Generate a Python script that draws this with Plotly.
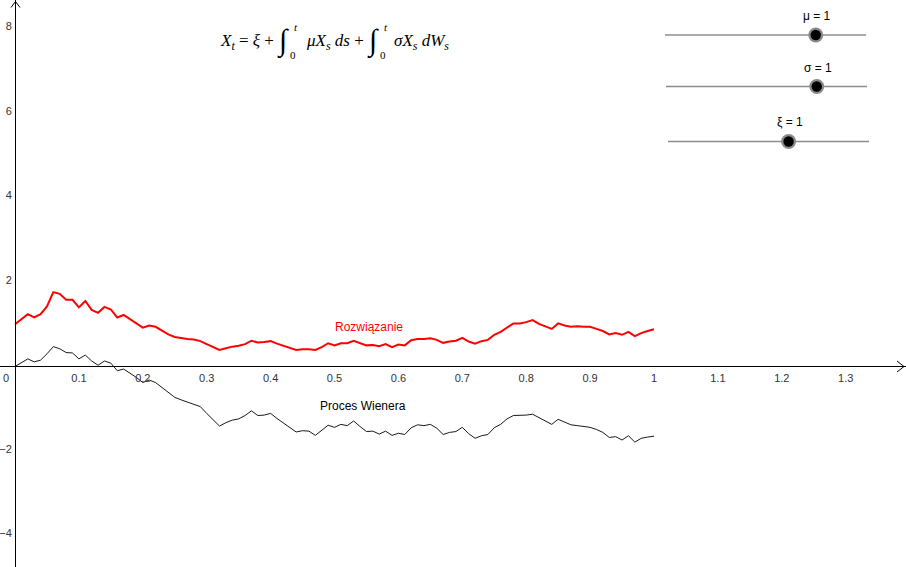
import plotly.graph_objects as go

# ---------------- data ----------------
t_steps = [round(i * 0.01, 2) for i in range(101)]

wiener = [0.00, 0.09, 0.18, 0.11, 0.15, 0.30, 0.47, 0.42, 0.33, 0.32,
          0.18, 0.27, 0.13, 0.03, 0.13, 0.08, -0.10, -0.06, -0.15, -0.26,
          -0.38, -0.32, -0.38, -0.50, -0.62, -0.73, -0.79, -0.84, -0.89, -0.95,
          -1.11, -1.27, -1.41, -1.33, -1.27, -1.24, -1.16, -1.05, -1.16, -1.15,
          -1.11, -1.23, -1.33, -1.44, -1.55, -1.52, -1.53, -1.63, -1.52, -1.39,
          -1.44, -1.37, -1.40, -1.29, -1.42, -1.54, -1.53, -1.60, -1.53, -1.63,
          -1.58, -1.61, -1.45, -1.38, -1.40, -1.37, -1.46, -1.61, -1.56, -1.54,
          -1.44, -1.59, -1.70, -1.64, -1.61, -1.45, -1.37, -1.24, -1.16, -1.16,
          -1.15, -1.13, -1.21, -1.29, -1.37, -1.25, -1.32, -1.38, -1.40, -1.42,
          -1.44, -1.49, -1.56, -1.68, -1.66, -1.74, -1.64, -1.79, -1.70, -1.67,
          -1.65]

solution = [1.00, 1.12, 1.24, 1.16, 1.24, 1.42, 1.76, 1.72, 1.58, 1.58,
            1.40, 1.55, 1.34, 1.27, 1.41, 1.35, 1.16, 1.22, 1.12, 1.03,
            0.92, 0.97, 0.94, 0.85, 0.76, 0.70, 0.67, 0.65, 0.64, 0.60,
            0.53, 0.46, 0.39, 0.43, 0.47, 0.49, 0.53, 0.61, 0.57, 0.58,
            0.60, 0.54, 0.49, 0.44, 0.39, 0.41, 0.41, 0.39, 0.46, 0.55,
            0.50, 0.55, 0.55, 0.61, 0.55, 0.50, 0.51, 0.48, 0.53, 0.46,
            0.52, 0.50, 0.62, 0.65, 0.65, 0.67, 0.63, 0.56, 0.59, 0.61,
            0.68, 0.59, 0.54, 0.60, 0.63, 0.75, 0.82, 0.93, 1.02, 1.02,
            1.05, 1.10, 1.01, 0.95, 0.89, 1.02, 0.97, 0.94, 0.95, 0.94,
            0.94, 0.89, 0.84, 0.76, 0.79, 0.75, 0.82, 0.72, 0.79, 0.84,
            0.88]

x_tick_vals = [0.1, 0.2, 0.3, 0.4, 0.5, 0.6, 0.7, 0.8, 0.9, 1.0, 1.1, 1.2, 1.3]
x_tick_text = ["0.1", "0.2", "0.3", "0.4", "0.5", "0.6", "0.7", "0.8", "0.9", "1", "1.1", "1.2", "1.3"]
y_tick_vals = [-4, -2, 2, 4, 6, 8]
y_tick_text = ["\u22124", "\u22122", "2", "4", "6", "8"]

slider_names = ["μ", "σ", "ξ"]
slider_values = [1, 1, 1]
slider_min = [-2, -2, -2]
slider_max = [2, 2, 3]

label_solution = "Rozwiązanie"
label_wiener = "Proces Wienera"

# ---------------- layout geometry ----------------
W, H = 906, 567
X_RANGE = [-0.0235, 1.3944]
Y_RANGE = [-4.746, 8.675]

def pxx(px):
    return px / W

def pxy(py):
    return 1 - py / H

x_axis_pos = (0 - Y_RANGE[0]) / (Y_RANGE[1] - Y_RANGE[0])
y_axis_pos = (0 - X_RANGE[0]) / (X_RANGE[1] - X_RANGE[0])

fig = go.Figure()

fig.add_trace(go.Scatter(x=t_steps, y=wiener, mode="lines",
                         line=dict(color="#1a1a1a", width=1),
                         hoverinfo="skip", showlegend=False))
fig.add_trace(go.Scatter(x=t_steps, y=solution, mode="lines",
                         line=dict(color="#ff0000", width=2),
                         hoverinfo="skip", showlegend=False))

axis_font = dict(family="Liberation Sans, Arial, sans-serif", size=11, color="#333333")

fig.update_layout(
    width=W, height=H,
    margin=dict(l=0, r=0, t=0, b=0),
    paper_bgcolor="white", plot_bgcolor="white",
    showlegend=False,
    xaxis=dict(range=X_RANGE, showgrid=False, zeroline=False,
               showline=True, linecolor="black", linewidth=1,
               anchor="free", position=x_axis_pos,
               tickmode="array", tickvals=x_tick_vals, ticktext=x_tick_text,
               ticks="", tickfont=axis_font, ticklabelstandoff=1),
    yaxis=dict(range=Y_RANGE, showgrid=False, zeroline=False,
               showline=True, linecolor="black", linewidth=1,
               anchor="free", position=y_axis_pos,
               tickmode="array", tickvals=y_tick_vals, ticktext=y_tick_text,
               ticks="", tickfont=axis_font, ticklabelstandoff=1,
               ticklabelshift=-2),
)

# "0" label at origin (left of the y-axis)
fig.add_annotation(x=0, y=0, xref="x", yref="y", text="0", showarrow=False,
                   xanchor="right", yanchor="top", xshift=-4, yshift=-4,
                   font=axis_font)

# axis arrow heads
shapes = []
shapes.append(dict(type="path", xref="paper", yref="paper",
                   path=f"M {pxx(897)} {pxy(361)} L {pxx(904)} {pxy(366.5)} L {pxx(897)} {pxy(372)}",
                   line=dict(color="black", width=1)))
shapes.append(dict(type="path", xref="paper", yref="paper",
                   path=f"M {pxx(11)} {pxy(7.5)} L {pxx(15.5)} {pxy(1.5)} L {pxx(20)} {pxy(7.5)}",
                   line=dict(color="black", width=1)))

# curve labels
fig.add_annotation(x=0.554, y=0.935, xref="x", yref="y", text=label_solution,
                   showarrow=False, font=dict(family="Liberation Sans, Arial, sans-serif",
                                              size=12, color="#ff0000"))
fig.add_annotation(x=0.545, y=-0.935, xref="x", yref="y", text=label_wiener,
                   showarrow=False, font=dict(family="Liberation Sans, Arial, sans-serif",
                                              size=12, color="#000000"))

# formula  X_t = ξ + ∫_0^t μX_s ds + ∫_0^t σX_s dW_s  (pieces so the integrals can be tall)
serif = "Liberation Serif, Times New Roman, serif"
formula_pieces = [
    # (text, x_px, y_px, anchor, size)
    ("<i>X</i><sub><i>t</i></sub> = <i>ξ</i> +", 276, 42, "right", 17),
    ("∫", 283, 41, "center", 30),
    ("0", 293, 55, "center", 11),
    ("<i>t</i>", 296, 27, "center", 11),
    ("<i>μX</i><sub><i>s</i></sub> <i>ds</i> +", 304, 42, "left", 17),
    ("∫", 373, 41, "center", 30),
    ("0", 383, 55, "center", 11),
    ("<i>t</i>", 386, 27, "center", 11),
    ("<i>σX</i><sub><i>s</i></sub> <i>dW</i><sub><i>s</i></sub>", 392, 42, "left", 17),
]
for txt, fx, fy, anc, fs in formula_pieces:
    fig.add_annotation(x=pxx(fx), y=pxy(fy), xref="paper", yref="paper", text=txt,
                       showarrow=False, xanchor=anc, yanchor="middle",
                       font=dict(family=serif, size=fs, color="black"))

# sliders
slider_lines = [(665, 866, 35), (666, 867, 86.5), (668, 869, 141.5)]
for name, val, vmin, vmax, (x0, x1, yy) in zip(slider_names, slider_values, slider_min,
                                                slider_max, slider_lines):
    shapes.append(dict(type="line", xref="paper", yref="paper",
                       x0=pxx(x0), x1=pxx(x1), y0=pxy(yy), y1=pxy(yy),
                       line=dict(color="#8c8c8c", width=1.3)))
    cx = x0 + (val - vmin) / (vmax - vmin) * (x1 - x0)
    ro, ri = 7.5, 5.2
    shapes.append(dict(type="circle", xref="paper", yref="paper",
                       x0=pxx(cx - ro), x1=pxx(cx + ro), y0=pxy(yy + ro), y1=pxy(yy - ro),
                       fillcolor="#8a8a8a", line=dict(width=0)))
    shapes.append(dict(type="circle", xref="paper", yref="paper",
                       x0=pxx(cx - ri), x1=pxx(cx + ri), y0=pxy(yy + ri), y1=pxy(yy - ri),
                       fillcolor="black", line=dict(width=0)))
    fig.add_annotation(x=pxx(cx + 1), y=pxy(yy - 19), xref="paper", yref="paper",
                       text=f"{name} = {val}", showarrow=False,
                       xanchor="center", yanchor="middle",
                       font=dict(family="Liberation Sans, Arial, sans-serif", size=12, color="black"))

fig.update_layout(shapes=shapes)

fig.write_html("out.html", config={"displayModeBar": False},
               post_script="document.body.style.margin='0';document.body.style.padding='0';")
